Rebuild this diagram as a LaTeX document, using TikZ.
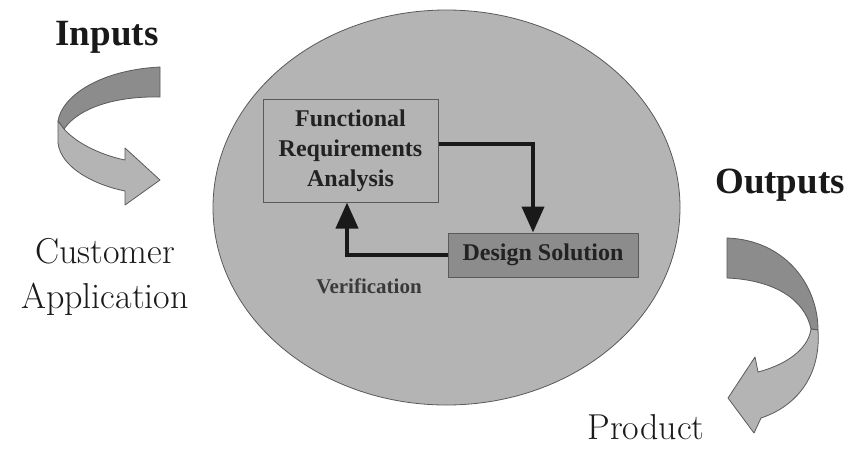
\documentclass[tikz,border=0pt]{standalone}
\usepackage{fontspec}
\newfontfamily\timesfont{Liberation Serif}
\usetikzlibrary{arrows.meta,shapes.geometric}
\definecolor{ellfill}{HTML}{B4B4B4}
\definecolor{dsfill}{HTML}{8C8C8C}
\definecolor{edge}{HTML}{5A5A5A}
\definecolor{txt}{HTML}{222222}
\definecolor{lighttxt}{HTML}{3A3A3A}
\definecolor{plaintxt}{HTML}{1A1A1A}
\tikzset{
  sysell/.style={ellipse, draw=edge, line width=0.8pt, fill=ellfill, minimum width=467pt, minimum height=395pt, inner sep=0pt},
  fra/.style={rectangle, draw=edge, line width=1pt, fill=ellfill, minimum width=175pt, minimum height=103pt, align=center, inner sep=0pt,
     font=\timesfont\fontsize{24}{30}\selectfont\bfseries, text=txt},
  dsbox/.style={rectangle, draw=edge, line width=1pt, fill=dsfill, minimum width=190pt, minimum height=44pt, inner sep=0pt,
     font=\timesfont\fontsize{24}{30}\selectfont\bfseries, text=txt},
  conn/.style={draw=black!90, line width=4pt, -{Triangle[width=22pt,length=26pt]}},
  heading/.style={font=\timesfont\fontsize{37}{44}\selectfont\bfseries, text=black!90},
  plain/.style={font=\fontsize{36}{45}\selectfont, text=plaintxt, align=center},
  darkband/.style={fill=dsfill, draw=edge, line width=0.8pt, line join=round},
  lightband/.style={fill=ellfill, draw=edge, line width=0.8pt, line join=round}
}
\begin{document}
\begin{tikzpicture}[x=1pt,y=-1pt]
\useasboundingbox (0,0) rectangle (853,450);
\fill[white] (0,0) rectangle (853,450);

% central ellipse
\node[sysell] (sys) at (446.5,207.5) {};

% boxes
\node[fra] (fra) at (350.5,150.5) {Functional\\Requirements\\Analysis};
\node[dsbox] (ds) at (543,255) {Design Solution};

% connectors
\draw[conn] ([yshift=6.5pt]fra.east) -| ([xshift=-10pt]ds.north);
\draw[conn] (ds.west) -| ([xshift=-3.5pt]fra.south);
\node[font=\timesfont\fontsize{21}{24}\selectfont\bfseries, text=lighttxt] (ver) at (369,286) {Verification};

% labels
\node[heading] (inputs) at (107,37) {Inputs};
\node[heading] (outputs) at (780,185) {Outputs};
\node[plain] (cust) at (105,277) {Customer\\Application};
\node[plain] (prod) at (646,427) {Product};

% input curved arrow
\path[darkband] (160,67) -- (160,97) .. controls (120,96) and (80,106) .. (64,129)
   -- (58,121) .. controls (62,96) and (100,70) .. (160,67) -- cycle;
\path[lightband] (58,121) -- (64,129) .. controls (78,145) and (105,156) .. (125,160)
   -- (125,148) -- (160,180) -- (125,205) -- (125,191)
   .. controls (95,185) and (61,168) .. (58,143) -- cycle;

% output curved arrow
\path[darkband] (727,238) .. controls (785,240) and (818,285) .. (818,330)
   -- (811,329) .. controls (805,300) and (775,280) .. (727,278) -- cycle;
\path[lightband] (818,330) .. controls (821,372) and (800,405) .. (761,418)
   -- (754,433) -- (728,398) -- (755,357) -- (758,372)
   .. controls (785,365) and (808,350) .. (811,329) -- cycle;
\end{tikzpicture}
\end{document}
